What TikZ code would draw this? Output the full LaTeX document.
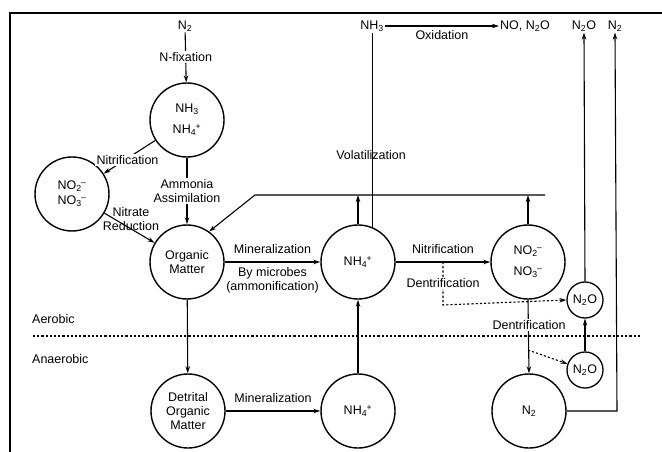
\documentclass[tikz,border=0pt]{standalone}
\usepackage{fontspec}
\setmainfont{Liberation Sans}
\usetikzlibrary{arrows.meta}
\newcommand\chsub[1]{\textsubscript{#1}}
\newcommand\chion[2]{\textsubscript{#1}\kern-0.5pt\textsuperscript{#2}}
\begin{document}
\begin{tikzpicture}[x=1pt,y=-1pt,
  every node/.style={font=\fontsize{12.5}{14}\selectfont, inner sep=1pt},
  pool/.style={circle, draw, line width=1.4pt, minimum size=74pt, align=center, inner sep=0pt},
  smallpool/.style={circle, draw, line width=1.3pt, minimum size=36pt, inner sep=0pt},
  flow/.style={line width=1.1pt, -{Stealth[length=7pt,width=4.5pt]}},
  plain/.style={line width=1.1pt},
  dotflow/.style={line width=1.1pt, dash pattern=on 2.2pt off 2pt, -{Stealth[length=7pt,width=4.5pt]}},
  dotline/.style={line width=1.1pt, dash pattern=on 2.2pt off 2pt},
  lbl/.style={fill=white, align=center, inner sep=1.5pt},
  txt/.style={align=center}]
\clip (0,0) rectangle (662,452);
\fill[white] (0,0) rectangle (662,452);
% outer frame
\draw[line width=2.6pt] (10,470) -- (10,13) -- (680,13);

% pools
\node[pool] (ammon) at (187,120) {NH\chsub{3}\\[7pt]NH\chion{4}{+}};
\node[pool] (nox1) at (72,194) {NO\chion{2}{--}\\[1pt]NO\chion{3}{--}};
\node[pool] (om) at (187,262) {Organic\\Matter};
\node[pool] (nh4a) at (358,262) {NH\chion{4}{+}};
\node[pool] (nox2) at (528,262) {NO\chion{2}{--}\\[7pt]NO\chion{3}{--}};
\node[smallpool] (n2oa) at (585,300) {N\chsub{2}O};
\node[smallpool] (n2ob) at (585,370) {N\chsub{2}O};
\node[pool] (dom) at (188,411) {Detrital\\Organic\\Matter};
\node[pool] (nh4b) at (358,411) {NH\chion{4}{+}};
\node[pool] (n2c) at (529,411) {N\chsub{2}};

% gases at the top
\node[txt] (n2top) at (185,26) {N\chsub{2}};
\node[txt] (nh3top) at (372,26) {NH\chsub{3}};
\node[txt] (noxtop) at (525,26) {NO, N\chsub{2}O};
\node[txt] (n2otop) at (584,26) {N\chsub{2}O};
\node[txt] (n2top2) at (615,26) {N\chsub{2}};

% fixation and assimilation
\draw[flow] (n2top) -- node[lbl, pos=0.5] {N-fixation} (ammon);
\draw[flow] (ammon) -- node[lbl, pos=0.5, xshift=-2pt, yshift=-3pt] {Nitrification} (nox1);
\draw[flow] (ammon) -- node[lbl, pos=0.5] {Ammonia\\Assimilation} (om);
\draw[flow] (nox1) -- (om);
\node[lbl, fill=none] (nred) at (131,219) {Nitrate\\Reduction};

% recycling line back to organic matter
\coordinate (fbr) at (545,195);
\coordinate (fbl) at (255,195);
\draw[flow] (fbr) -- (fbl) -- (om.54);
\draw[flow] (nh4a.north) -- (nh4a.north |- fbr);
\draw[flow] (nox2.north) -- (nox2.north |- fbr);

% volatilization and oxidation
\draw[plain] (nh4a.68) -- (nh4a.68 |- nh3top.south);
\node[txt] (vol) at (371,155) {Volatilization};
\draw[flow] (nh3top.east) -- node[below=3pt] {Oxidation} (noxtop.west);

% aerobic transformations
\draw[flow] (om) -- node[above=7pt] {Mineralization}
  node[below=4pt, align=center] {By microbes\\(ammonification)} (nh4a);
\draw[flow] (nh4a) -- node[above=7pt, pos=0.5] {Nitrification} (nox2);
\coordinate (dn1) at (443,262);
\coordinate (dn2) at (443,305);
\draw[dotflow] (dn1) -- (dn2) -- (n2oa.west);
\node[lbl] (den1) at (443,283) {Dentrification};

\draw[flow] (nox2.south) -- (n2c.north);
\node[lbl] (den2) at (529,325) {Dentrification};
\coordinate (dn3) at (528,350);
\draw[dotflow] (dn3) -- (n2ob);
\draw[flow] (n2ob) -- (n2oa);
\draw[flow] (n2oa.north) -- (n2otop.south);
\coordinate (n2r) at (617,411);
\draw[flow] (n2c.east) -- (n2r) -- (n2top2.south);

% aerobic / anaerobic boundary
\coordinate (bl) at (33,336);
\coordinate (br) at (640,336);
\draw[dotline] (bl) -- (br);
\node[anchor=west] (aer) at (31,319) {Aerobic};
\node[anchor=west] (anaer) at (31,359) {Anaerobic};

% anaerobic transformations
\draw[flow] (om) -- (dom);
\draw[flow] (dom) -- node[above=7pt] {Mineralization} (nh4b);
\draw[flow] (nh4b) -- (nh4a);
\end{tikzpicture}
\end{document}
